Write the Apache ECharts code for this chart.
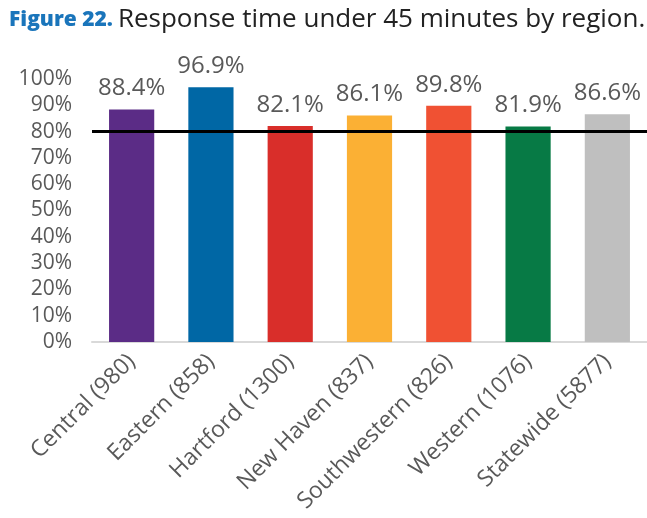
<!DOCTYPE html>
<html><head><meta charset="utf-8">
<script src="https://cdn.jsdelivr.net/npm/echarts@6/dist/echarts.min.js"></script>
<style>html,body{margin:0;padding:0;background:#fff}#c{width:647px;height:518px}</style>
</head><body><div id="c"></div>
<script>
const categories = ['Central (980)','Eastern (858)','Hartford (1300)','New Haven (837)','Southwestern (826)','Western (1076)','Statewide (5877)'];
const values = [88.4, 96.9, 82.1, 86.1, 89.8, 81.9, 86.6];
const colors = ['#5b2c86','#0067a5','#d92e2a','#fbb034','#f05133','#077a45','#bfbfbf'];
const threshold = 80;
const yTicks = [0,10,20,30,40,50,60,70,80,90,100];

const chart = echarts.init(document.getElementById('c'));
chart.setOption({
  animation:false,
  title:{
    left:4, top:2,
    text:'{b|Figure 22.} {r|Response time under 45 minutes by region.}',
    textStyle:{rich:{
      b:{fontFamily:'Open Sans',fontWeight:800,fontSize:21,color:'#1a75bb'},
      r:{fontFamily:'Open Sans',fontWeight:400,fontSize:26,color:'#222'}
    }}
  },
  grid:{left:92, right:-8, top:79, bottom:176, containLabel:false},
  xAxis:{
    type:'category', data:categories,
    axisLine:{lineStyle:{color:'#d9d9d9',width:2}},
    axisTick:{show:false},
    axisLabel:{rotate:45, interval:0, fontFamily:'Open Sans', fontSize:23, color:'#595959', margin:16}
  },
  yAxis:{
    type:'value', min:0, max:100, interval:10,
    axisLine:{show:false}, axisTick:{show:false}, splitLine:{show:false},
    axisLabel:{formatter:v=>yTicks.includes(v)?v+'%':'', fontFamily:'Open Sans', fontSize:21, color:'#595959', margin:20}
  },
  series:[{
    type:'bar',
    data:values.map((v,i)=>({value:v,itemStyle:{color:colors[i]}})),
    barWidth:'57%',
    label:{show:true, position:'top', distance:9, formatter:p=>p.value.toFixed(1)+'%', fontFamily:'Open Sans', fontSize:24, color:'#595959'},
    markLine:{
      silent:true, symbol:'none', label:{show:false},
      lineStyle:{color:'#000',width:3,type:'solid'},
      data:[{yAxis:threshold}]
    }
  }]
});
</script></body></html>
